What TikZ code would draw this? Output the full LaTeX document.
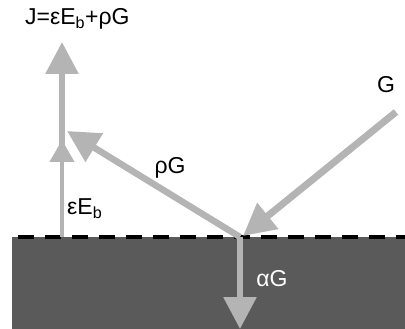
\documentclass[tikz,border=0pt]{standalone}
\usepackage{fontspec}
\setmainfont{Liberation Sans}
\usetikzlibrary{arrows.meta,positioning}

\definecolor{raygray}{HTML}{B4B4B4}
\definecolor{bodygray}{HTML}{5A5A5A}

\tikzset{
  ray/.style={draw=raygray, line width=6pt,
    -{Triangle[length=32pt,width=32pt,fill=raygray]}},
  thinray/.style={draw=raygray, line width=4pt,
    -{Triangle[length=22pt,width=24pt,fill=raygray]}},
  lbl/.style={font=\fontsize{23}{26}\selectfont, inner sep=0pt}
}

\begin{document}
\begin{tikzpicture}[x=1pt, y=-1pt]
    \useasboundingbox (0,0) rectangle (405,329);
    % body and surface
    \fill[bodygray] (12,237) rectangle (405,329);
    \coordinate (sl) at (12,237);
    \coordinate (sr) at (405,237);
    \draw[line width=3.5pt, dash pattern=on 16pt off 11pt, dash phase=-6pt] (sl) -- (sr);
    \coordinate (surf) at (240,237);
    \coordinate (gsrc) at (396,112);
    \coordinate (gtip) at (243,236);
    \coordinate (rtip) at (67,131);
    \coordinate (atip) at (240,329);
    \coordinate (ebfoot) at (62,237);
    \coordinate (ebtip) at (62,140);
    \coordinate (jfoot) at (62,150);
    \coordinate (jtip) at (62,42);
    % rays
    \draw[ray] (jfoot) -- (jtip);
    \draw[thinray] (ebfoot) -- (ebtip);
    \draw[ray, line width=6.5pt] (surf) -- (rtip);
    \draw[ray, line width=7pt] (gsrc) -- (gtip);
    \draw[ray] (surf) -- (atip);
    % labels
    \node[lbl, anchor=west] (jlabel) at (25,19) {J=εE\textsubscript{b}+ρG};
    \node[lbl] (glabel) at (386,85) {G};
    \node[lbl] (rlabel) at (170,168) {ρG};
    \node[lbl, anchor=west] (elabel) at (67,209) {εE\textsubscript{b}};
    \node[lbl, text=white] (alabel) at (272,279) {αG};
\end{tikzpicture}
\end{document}
